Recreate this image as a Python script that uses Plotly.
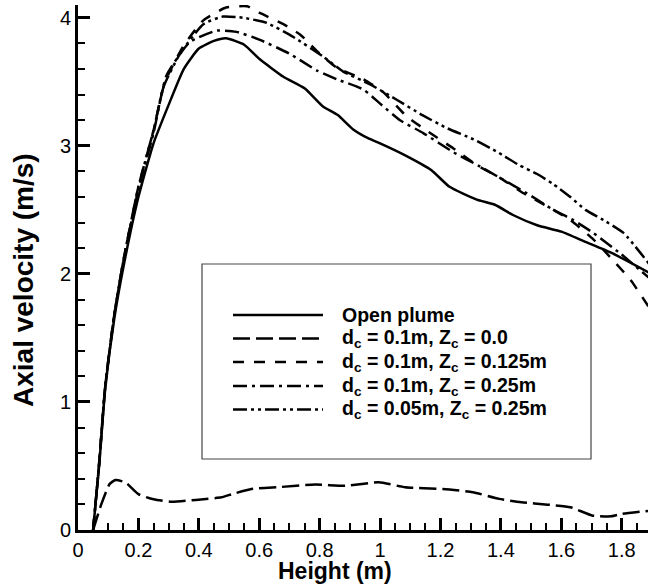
import plotly.graph_objects as go

# ---- data ----
x_open = [0.05, 0.07, 0.09, 0.12, 0.15, 0.2, 0.25, 0.3, 0.35, 0.4, 0.45, 0.49, 0.55, 0.6, 0.68, 0.75, 0.81, 0.86, 0.91, 0.96, 1.0, 1.08, 1.17, 1.23, 1.32, 1.38, 1.44, 1.52, 1.6, 1.68, 1.77, 1.89]
y_open = [0.0, 0.5, 1.1, 1.65, 2.05, 2.6, 3.02, 3.32, 3.6, 3.76, 3.82, 3.84, 3.79, 3.68, 3.54, 3.45, 3.31, 3.24, 3.13, 3.06, 3.02, 2.93, 2.81, 2.68, 2.58, 2.54, 2.46, 2.38, 2.33, 2.25, 2.16, 2.01]

x_z00 = [0.05, 0.077, 0.105, 0.124, 0.158, 0.2, 0.25, 0.31, 0.39, 0.475, 0.51, 0.574, 0.66, 0.785, 0.885, 0.996, 1.083, 1.207, 1.307, 1.394, 1.468, 1.555, 1.63, 1.704, 1.766, 1.8, 1.89]
y_z00 = [0.0, 0.2, 0.36, 0.39, 0.37, 0.28, 0.24, 0.22, 0.235, 0.255, 0.28, 0.32, 0.334, 0.355, 0.345, 0.373, 0.334, 0.32, 0.295, 0.243, 0.217, 0.198, 0.178, 0.112, 0.107, 0.125, 0.15]

x_z125 = [0.05, 0.07, 0.09, 0.12, 0.15, 0.2, 0.25, 0.288, 0.349, 0.415, 0.49, 0.56, 0.6, 0.68, 0.735, 0.8, 0.857, 0.945, 1.01, 1.088, 1.166, 1.243, 1.32, 1.397, 1.475, 1.552, 1.63, 1.706, 1.77, 1.83, 1.89]
y_z125 = [0.0, 0.52, 1.12, 1.68, 2.1, 2.68, 3.12, 3.5, 3.78, 3.98, 4.08, 4.09, 4.04, 3.95, 3.87, 3.72, 3.61, 3.52, 3.42, 3.23, 3.1, 2.98, 2.85, 2.75, 2.63, 2.53, 2.42, 2.27, 2.11, 1.95, 1.74]

x_z25 = [0.05, 0.07, 0.09, 0.12, 0.15, 0.2, 0.25, 0.293, 0.37, 0.46, 0.525, 0.6, 0.7, 0.79, 0.857, 0.945, 1.0, 1.066, 1.143, 1.243, 1.33, 1.397, 1.486, 1.574, 1.64, 1.706, 1.795, 1.89]
y_z25 = [0.0, 0.52, 1.12, 1.68, 2.1, 2.66, 3.1, 3.55, 3.81, 3.9, 3.89, 3.83, 3.72, 3.59, 3.52, 3.44, 3.33, 3.2, 3.1, 2.95, 2.84, 2.75, 2.63, 2.5, 2.42, 2.32, 2.16, 1.97]

x_d05 = [0.05, 0.07, 0.09, 0.12, 0.15, 0.2, 0.25, 0.283, 0.338, 0.415, 0.48, 0.547, 0.625, 0.713, 0.81, 0.878, 0.967, 1.055, 1.14, 1.22, 1.31, 1.39, 1.46, 1.52, 1.574, 1.63, 1.68, 1.74, 1.806, 1.89]
y_d05 = [0.0, 0.52, 1.12, 1.68, 2.1, 2.68, 3.12, 3.46, 3.72, 3.95, 4.01, 4.0, 3.96, 3.85, 3.7, 3.58, 3.48, 3.36, 3.24, 3.14, 3.05, 2.95, 2.85, 2.78, 2.7, 2.6, 2.5, 2.42, 2.32, 2.08]

legend_labels = [
    "Open plume",
    "d<sub>c</sub> = 0.1m, Z<sub>c</sub> = 0.0",
    "d<sub>c</sub> = 0.1m, Z<sub>c</sub> = 0.125m",
    "d<sub>c</sub> = 0.1m, Z<sub>c</sub> = 0.25m",
    "d<sub>c</sub> = 0.05m, Z<sub>c</sub> = 0.25m",
]

x_ticks = [0, 0.2, 0.4, 0.6, 0.8, 1.0, 1.2, 1.4, 1.6, 1.8]
x_tick_text = ["0", "0.2", "0.4", "0.6", "0.8", "1", "1.2", "1.4", "1.6", "1.8"]
y_ticks = [0, 1, 2, 3, 4]
x_title = "Height (m)"
y_title = "Axial velocity (m/s)"

# ---- styles ----
dashes = ["solid", "17px,6px", "11px,10px", "14px,5px,3px,5px", "14px,4px,3px,4px,3px,4px"]
LW = 2.5
FONT = "Liberation Sans, Arial, sans-serif"

series = [(x_open, y_open), (x_z00, y_z00), (x_z125, y_z125), (x_z25, y_z25), (x_d05, y_d05)]

fig = go.Figure()
for (xs, ys), d, name in zip(series, dashes, legend_labels):
    fig.add_trace(go.Scatter(x=xs, y=ys, mode="lines", name=name,
                             line=dict(color="black", width=LW, dash=d, shape="spline", smoothing=0.5),
                             showlegend=False, hoverinfo="skip"))

W, H = 648, 584
L, R, T, B = 78, 0, 5, 54
pw, ph = W - L - R, H - T - B

def px(xp):
    return (xp - L) / pw

def py(yp):
    return 1 - (yp - T) / ph

shapes = []
annotations = []
# legend box
shapes.append(dict(type="rect", xref="paper", yref="paper",
                   x0=px(202), x1=px(591), y0=py(459), y1=py(264),
                   line=dict(color="#444", width=1.2), fillcolor="white", layer="above"))
rows = [315, 338.5, 362, 386, 409.5]
for r, d, lab in zip(rows, dashes, legend_labels):
    shapes.append(dict(type="line", xref="paper", yref="paper",
                       x0=px(233), x1=px(323), y0=py(r), y1=py(r),
                       line=dict(color="black", width=LW, dash=d), layer="above"))
    annotations.append(dict(xref="paper", yref="paper", x=px(340), y=py(r),
                            text="<b>" + lab + "</b>", showarrow=False,
                            xanchor="left", yanchor="middle",
                            font=dict(family=FONT, size=19.5, color="black")))

# axis titles
annotations.append(dict(xref="paper", yref="paper", x=px(335), y=py(571),
                        text="<b>" + x_title + "</b>", showarrow=False,
                        xanchor="center", yanchor="middle",
                        font=dict(family=FONT, size=23, color="black")))
annotations.append(dict(xref="paper", yref="paper", x=px(23), y=py(280),
                        text="<b>" + y_title + "</b>", showarrow=False, textangle=-90,
                        xanchor="center", yanchor="middle",
                        font=dict(family=FONT, size=28, color="black")))

fig.update_layout(
    template="none",
    width=W, height=H,
    margin=dict(l=L, r=R, t=T, b=B, autoexpand=False),
    plot_bgcolor="white", paper_bgcolor="white",
    font=dict(family=FONT, size=20, color="black"),
    shapes=shapes, annotations=annotations,
    xaxis=dict(range=[0, 1.887], showgrid=False, zeroline=False, automargin=False,
               showline=True, linecolor="black", linewidth=3,
               ticks="inside", ticklen=12, tickwidth=2.5, tickcolor="black",
               tickvals=x_ticks, ticktext=x_tick_text,
               tickfont=dict(family=FONT, size=20, color="black"),
               minor=dict(dtick=0.05, ticks="inside", ticklen=7, tickwidth=1.5, tickcolor="black")),
    yaxis=dict(range=[0, 4.1], showgrid=False, zeroline=False, automargin=False,
               showline=True, linecolor="black", linewidth=3,
               ticks="inside", ticklen=12, tickwidth=2.5, tickcolor="black",
               tickvals=y_ticks,
               tickfont=dict(family=FONT, size=20, color="black"),
               minor=dict(dtick=0.2, ticks="inside", ticklen=7, tickwidth=1.5, tickcolor="black")),
)

fig.write_html("out.html", config={"displayModeBar": False},
               post_script="document.body.style.margin='0';document.body.style.overflow='hidden';")
